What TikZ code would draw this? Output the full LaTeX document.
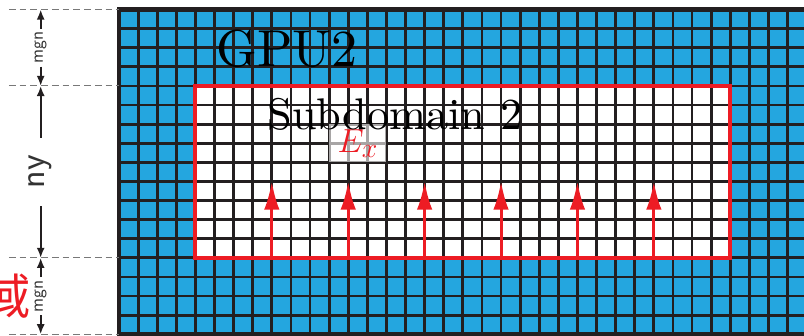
\documentclass[tikz,border=0pt]{standalone}
\usepackage{fontspec}
\newfontfamily\cjk{Noto Sans CJK SC}
\newfontfamily\lmten[Extension=.otf]{lmroman10-regular}
\usetikzlibrary{arrows.meta}

\begin{document}
\begin{tikzpicture}[x=0.5cm,y=0.5cm]
  \definecolor{gpublue}{RGB}{36,166,223}
  \definecolor{gridline}{RGB}{35,31,32}
  \definecolor{subred}{RGB}{237,28,36}
  \definecolor{guide}{RGB}{120,120,120}

  \tikzset{
    dimarrow/.style={-{Latex[length=7.5pt,width=6pt]},line width=1.4pt,gridline},
    dimlabel/.style={rotate=90,font=\sffamily\fontsize{13.5}{14}\selectfont,text=black!80,inner sep=2pt},
    fieldarrow/.style={-{Latex[length=21pt,width=11.5pt]},line width=2.2pt,subred},
    bigtext/.style={anchor=base,inner sep=0pt}
  }

  \useasboundingbox (-6.23,-0.05) rectangle (35.86,17.5);

  % GPU block, margin cells in blue
  \fill[gpublue] (0,0) rectangle (36,17);
  \fill[white] (4,4) rectangle (32,13);
  \draw[gridline,line width=2.1pt,step=1] (0,0) grid (36,17);
  \draw[gridline,line width=3.5pt] (0,0) rectangle (36,17);

  % guide lines
  \foreach \yy in {0,4,13,17}
    \draw[guide,line width=0.8pt,dash pattern=on 5pt off 3pt] (-5.76,\yy) -- (0,\yy);

  % subdomain frame and field arrows
  \draw[subred,line width=3pt] (4,4) rectangle (32,13);
  \foreach \xx in {8,12,...,28}
    \draw[fieldarrow] (\xx,4) -- (\xx,8);

  % field label
  \node[fill=white,fill opacity=0.6,text opacity=1,minimum width=1.5cm,minimum height=1cm,inner sep=0pt,
        text=subred,font=\fontsize{28}{30}\selectfont] (ex) at (12.5,10) {$E_x$};

  % titles
  \node[bigtext,font=\lmten\fontsize{38.7}{40}\selectfont] (gpu) at (8.8,14.02) {GPU2};
  \node[bigtext,font=\lmten\fontsize{33}{36}\selectfont] (sub) at (14.45,10.72) {Subdomain 2};

  % dimension marks
  \coordinate (top) at (-4.1,17);
  \coordinate (uppr) at (-4.1,13);
  \coordinate (lowr) at (-4.1,4);
  \coordinate (bot) at (-4.1,0);

  \node[dimlabel] (mgnup) at (-4.1,15) {mgn};
  \draw[dimarrow] (mgnup) -- (top);
  \draw[dimarrow] (mgnup) -- (uppr);

  \node[dimlabel,font=\sffamily\fontsize{27}{29}\selectfont,inner sep=13pt] (ny) at (-4.1,8.5) {ny};
  \draw[dimarrow] (ny) -- (uppr);
  \draw[dimarrow] (ny) -- (lowr);

  \node[dimlabel] (mgndown) at (-4.1,2) {mgn};
  \draw[dimarrow] (mgndown) -- (lowr);
  \draw[dimarrow] (mgndown) -- (bot);

  % domain label, cut at the left edge
  \node[anchor=east,inner sep=0pt,text=subred,font=\cjk\fontsize{36}{38}\selectfont] (dom) at (-4.62,2) {域};
\end{tikzpicture}
\end{document}
